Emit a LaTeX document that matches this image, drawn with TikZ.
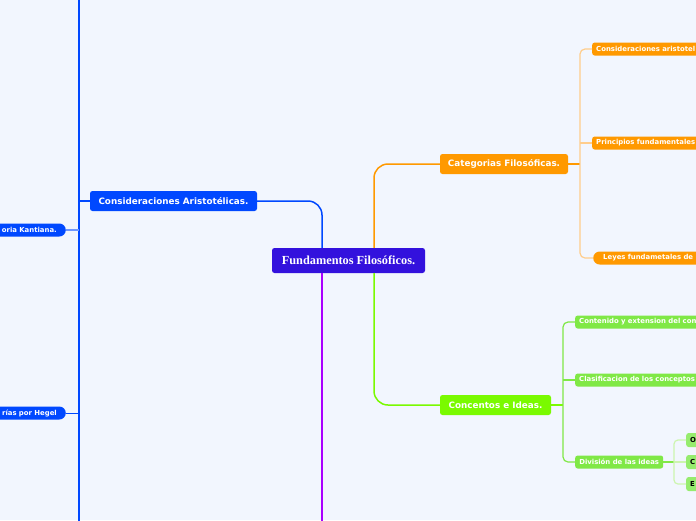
\documentclass[tikz,border=0pt]{standalone}
\usepackage{fontspec}
\newfontfamily\mapsans{DejaVu Sans}
\newfontfamily\mapserif{Liberation Serif}
\usetikzlibrary{positioning}
\definecolor{BG}{RGB}{242,246,254}
\definecolor{CEN}{RGB}{51,17,221}
\definecolor{BL}{RGB}{0,72,255}
\definecolor{BLl}{RGB}{110,150,255}
\definecolor{OR}{RGB}{255,153,0}
\definecolor{ORl}{RGB}{255,205,140}
\definecolor{GR}{RGB}{122,250,0}
\definecolor{GRm}{RGB}{128,232,70}
\definecolor{GRl}{RGB}{150,236,110}
\definecolor{GRp}{RGB}{205,245,175}
\definecolor{PU}{RGB}{170,0,255}

\begin{document}
\begin{tikzpicture}[x=1pt, y=-1pt,
  mainbox/.style={rounded corners=2.5pt, text=white, inner sep=0pt,
    font=\mapsans\bfseries\fontsize{8.8}{10}\selectfont, minimum height=20pt},
  subbox/.style={rounded corners=2.5pt, text=white, inner xsep=4pt, inner ysep=0pt,
    font=\mapsans\bfseries\fontsize{6.9}{8}\selectfont, minimum height=13pt},
  pill/.style={subbox, rounded corners=6.5pt},
  cutright/.style={anchor=west, text width=140pt, align=left},
  cutleft/.style={anchor=east, text width=90pt, align=right, inner xsep=9pt}]
\useasboundingbox (0,0) rectangle (696,520);
\fill[BG] (0,0) rectangle (696,520);
\clip (0,0) rectangle (696,520);

% Central topic
\node[mainbox, fill=CEN, font=\mapserif\bfseries\fontsize{12.3}{14}\selectfont,
  minimum width=153pt, minimum height=25pt] (cen) at (348.5,260.5) {Fundamentos Filosóficos.};

% Main topics
\node[mainbox, fill=BL, minimum width=167pt] (aris) at (173.5,201) {Consideraciones Aristotélicas.};
\node[mainbox, fill=OR, minimum width=128pt] (cat) at (504,164) {Categorias Filosóficas.};
\node[mainbox, fill=GR, minimum width=111pt] (conc) at (495.5,405) {Concentos e Ideas.};

% Left subtopics (cut by the edge)
\node[pill, fill=BL, cutleft] (kant) at (66,230) {oria Kantiana.};
\node[pill, fill=BL, cutleft] (hegel) at (66,413) {rías por Hegel};

% Orange subtopics
\node[subbox, fill=OR, cutright] (carist) at (592,49) {Consideraciones aristotel};
\node[subbox, fill=OR, cutright] (princ) at (592,143) {Principios fundamentales};
\node[pill, fill=OR, cutright, inner xsep=10pt] (leyes) at (593,258) {Leyes fundametales de};

% Green subtopics
\node[subbox, fill=GRm, cutright] (cont) at (575,322) {Contenido y extension del con};
\node[subbox, fill=GRm, cutright] (clas) at (575,380) {Clasificacion de los conceptos};
\node[subbox, fill=GRm, anchor=west, minimum width=88pt, inner xsep=2pt] (divi) at (575,462) {División de las ideas};
\node[subbox, fill=GRl, text=black, minimum height=14pt, anchor=west, text width=30pt, align=left] (io) at (686,440) {O};
\node[subbox, fill=GRl, text=black, minimum height=14pt, anchor=west, text width=30pt, align=left] (ic) at (686,462) {C};
\node[subbox, fill=GRl, text=black, minimum height=14pt, anchor=west, text width=30pt, align=left] (ie) at (686,484) {E};

% Branch points
\coordinate (btop) at (79,-5);
\coordinate (bbot) at (79,525);
\coordinate (otr) at (580,164);
\coordinate (gtr) at (563,405);
\coordinate (dtr) at (674,462);
\coordinate (pbot) at (322,525);

% Main connectors
\draw[BL, line width=1.5pt, rounded corners=14pt] ([xshift=-26.5pt]cen.north) |- (aris.east);
\draw[OR, line width=1.5pt, rounded corners=14pt] ([xshift=25.5pt]cen.north) |- (cat.west);
\draw[GR, line width=1.5pt, rounded corners=14pt] ([xshift=25.5pt]cen.south) |- (conc.west);
\draw[PU, line width=2pt] ([xshift=-26.5pt]cen.south) -- (pbot);

% Blue subtree
\draw[BL, line width=1.2pt] (btop) -- (bbot);
\draw[BL, line width=1.2pt] (aris.west) -- (aris.west -| btop);
\draw[BLl, line width=1.5pt] (kant.east) -- (kant.east -| btop);
\draw[BL, line width=1pt] (hegel.east) -- (hegel.east -| btop);

% Orange subtree
\draw[OR, line width=1.2pt] (cat.east) -- (otr);
\draw[ORl, line width=1.2pt, rounded corners=5pt] (carist.west) -| (otr) |- (leyes.west);
\draw[ORl, line width=1.2pt] (princ.west) -- (princ.west -| otr);

% Green subtree
\draw[GR, line width=1.2pt] (conc.east) -- (gtr);
\draw[GRm, line width=1.2pt, rounded corners=5pt] (cont.west) -| (gtr) |- (divi.west);
\draw[GRm, line width=1.2pt] (clas.west) -- (clas.west -| gtr);
\draw[GRm, line width=1.2pt] (divi.east) -- (dtr);
\draw[GRp, line width=1.2pt, rounded corners=4pt] (io.west) -| (dtr) |- (ie.west);
\draw[GRp, line width=1.2pt] (ic.west) -- (dtr);
\end{tikzpicture}
\end{document}
